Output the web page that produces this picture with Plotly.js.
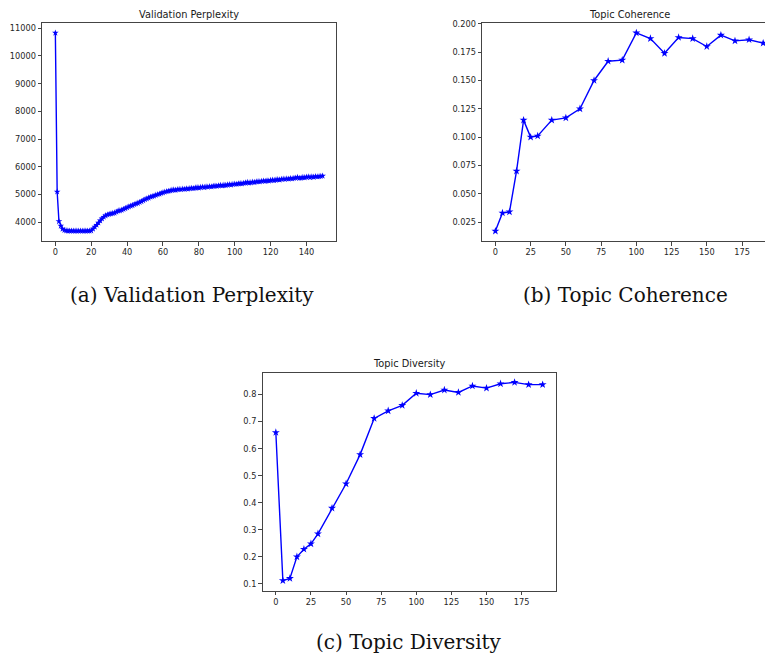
<!DOCTYPE html>
<html>
<head>
<meta charset="utf-8">
<script src="https://cdn.plot.ly/plotly-3.0.1.min.js"></script>
<style>html,body{margin:0;padding:0;background:#fff;}#chart{width:765px;height:657px;}</style>
</head>
<body>
<div id="chart"></div>
<script>
// Validation perplexity, epochs 0..149
const perplexity = [
10830,5100,4030,3870,3760,3710,3695,3690,3688,3686,
3686,3685,3686,3685,3686,3685,3686,3687,3686,3688,
3700,3760,3830,3900,3980,4060,4130,4190,4240,4270,
4290,4310,4320,4340,4370,4410,4420,4440,4470,4500,
4530,4560,4590,4610,4640,4670,4690,4720,4750,4790,
4820,4850,4880,4910,4930,4950,4980,5000,5020,5050,
5070,5090,5110,5120,5140,5160,5170,5160,5180,5190,
5180,5200,5190,5210,5200,5220,5230,5220,5240,5250,
5240,5260,5270,5260,5280,5270,5290,5280,5300,5310,
5300,5320,5330,5320,5340,5330,5350,5360,5350,5370,
5380,5370,5390,5400,5390,5410,5420,5440,5420,5430,
5450,5440,5460,5470,5460,5480,5490,5480,5500,5490,
5510,5520,5510,5530,5540,5530,5550,5560,5550,5570,
5560,5580,5570,5590,5600,5620,5590,5600,5620,5610,
5630,5640,5620,5640,5630,5650,5640,5650,5660,5670
];
const epochs = perplexity.map((_, i) => i);

const topicSteps = [0,5,10,15,20,25,30,40,50,60,70,80,90,100,110,120,130,140,150,160,170,180,190];
const coherence = [0.017,0.033,0.034,0.070,0.115,0.100,0.101,0.115,0.117,0.125,0.150,0.167,0.168,0.192,0.187,0.174,0.188,0.187,0.180,0.190,0.185,0.186,0.183];
const diversity = [0.66,0.112,0.12,0.20,0.228,0.248,0.285,0.38,0.47,0.578,0.712,0.74,0.76,0.805,0.80,0.817,0.808,0.832,0.824,0.840,0.845,0.837,0.837];

const titles = ["Validation Perplexity", "Topic Coherence", "Topic Diversity"];
const captions = ["(a) Validation Perplexity", "(b) Topic Coherence", "(c) Topic Diversity"];

const W = 765, H = 657;
const px = v => v / W;
const py = v => 1 - v / H;

const lineStyle = {color: '#0000ff', width: 1.4};
const smallMarker = {symbol: 'star', size: 5, color: '#0000ff'};
const markerStyle = {symbol: 'star', size: 6, color: '#0000ff'};

const traces = [
  {x: epochs, y: perplexity, xaxis: 'x', yaxis: 'y', mode: 'lines+markers', line: lineStyle, marker: smallMarker},
  {x: topicSteps, y: coherence, xaxis: 'x2', yaxis: 'y2', mode: 'lines+markers', line: lineStyle, marker: markerStyle},
  {x: topicSteps, y: diversity, xaxis: 'x3', yaxis: 'y3', mode: 'lines+markers', line: lineStyle, marker: markerStyle}
];

const tickFont = {family: 'DejaVu Sans', size: 8.2, color: '#262626'};
function ax(extra) {
  return Object.assign({
    showgrid: false, zeroline: false, showline: true, linecolor: '#444', linewidth: 1,
    mirror: true, ticks: 'outside', ticklen: 3.5, tickwidth: 1, tickcolor: '#444',
    tickfont: tickFont, fixedrange: true
  }, extra);
}

const titleFont = {family: 'DejaVu Sans', size: 9.8, color: '#1a1a1a'};
const capFont = {family: 'DejaVu Serif', size: 20, color: '#111'};

const layout = {
  width: W, height: H,
  margin: {l: 0, r: 0, t: 0, b: 0},
  paper_bgcolor: '#fff', plot_bgcolor: '#fff',
  showlegend: false,
  xaxis: ax({domain: [px(42), px(336)], range: [-7.45, 156.45], tickvals: [0,20,40,60,80,100,120,140], anchor: 'y'}),
  yaxis: ax({domain: [py(241), py(23)], range: [3323, 11187], tickvals: [4000,5000,6000,7000,8000,9000,10000,11000], tickformat: 'd', anchor: 'x'}),
  xaxis2: ax({domain: [px(482), 1], range: [-9.5, 191.3], tickvals: [0,25,50,75,100,125,150,175], anchor: 'y2'}),
  yaxis2: ax({domain: [py(241), py(23)], range: [0.00825, 0.20075], tickvals: [0.025,0.05,0.075,0.1,0.125,0.15,0.175,0.2], tickformat: '.3f', mirror: false, anchor: 'x2'}),
  xaxis3: ax({domain: [px(262.5), px(556)], range: [-9.5, 199.5], tickvals: [0,25,50,75,100,125,150,175], anchor: 'y3'}),
  yaxis3: ax({domain: [py(590.5), py(372.5)], range: [0.0753, 0.8817], tickvals: [0.1,0.2,0.3,0.4,0.5,0.6,0.7,0.8], tickformat: '.1f', anchor: 'x3'}),
  annotations: [
    {text: titles[0], x: px(189), y: py(14), xref: 'paper', yref: 'paper', showarrow: false, xanchor: 'center', yanchor: 'middle', font: titleFont},
    {text: titles[1], x: px(629), y: py(14), xref: 'paper', yref: 'paper', showarrow: false, xanchor: 'center', yanchor: 'middle', font: titleFont},
    {text: titles[2], x: px(409), y: py(363), xref: 'paper', yref: 'paper', showarrow: false, xanchor: 'center', yanchor: 'middle', font: titleFont},
    {text: captions[0], x: px(192), y: py(295), xref: 'paper', yref: 'paper', showarrow: false, xanchor: 'center', yanchor: 'middle', font: capFont},
    {text: captions[1], x: px(625), y: py(295), xref: 'paper', yref: 'paper', showarrow: false, xanchor: 'center', yanchor: 'middle', font: capFont},
    {text: captions[2], x: px(409), y: py(642), xref: 'paper', yref: 'paper', showarrow: false, xanchor: 'center', yanchor: 'middle', font: capFont}
  ]
};

Plotly.newPlot('chart', traces, layout, {displayModeBar: false, staticPlot: true});
</script>
</body>
</html>
